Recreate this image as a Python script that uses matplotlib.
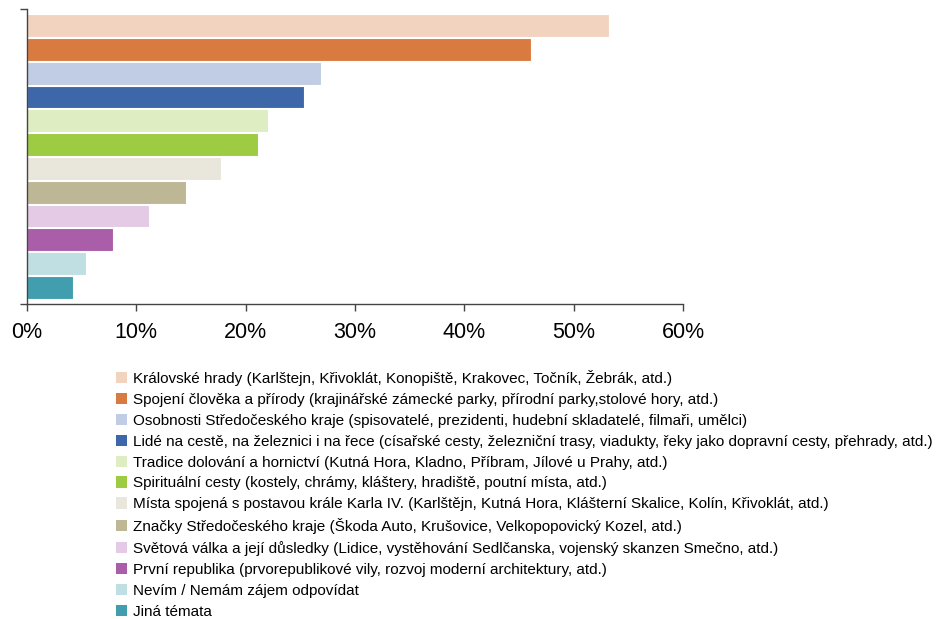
import matplotlib
matplotlib.use("Agg")
import matplotlib.pyplot as plt
from matplotlib.patches import Patch
from matplotlib.ticker import FuncFormatter

categories = [
    "Královské hrady (Karlštejn, Křivoklát, Konopiště, Krakovec, Točník, Žebrák, atd.)",
    "Spojení člověka a přírody (krajinářské zámecké parky, přírodní parky,stolové hory, atd.)",
    "Osobnosti Středočeského kraje (spisovatelé, prezidenti, hudební skladatelé, filmaři, umělci)",
    "Lidé na cestě, na železnici i na řece (císařské cesty, železniční trasy, viadukty, řeky jako dopravní cesty, přehrady, atd.)",
    "Tradice dolování a hornictví (Kutná Hora, Kladno, Příbram, Jílové u Prahy, atd.)",
    "Spirituální cesty (kostely, chrámy, kláštery, hradiště, poutní místa, atd.)",
    "Místa spojená s postavou krále Karla IV. (Karlštějn, Kutná Hora, Klášterní Skalice, Kolín, Křivoklát, atd.)",
    "Značky Středočeského kraje (Škoda Auto, Krušovice, Velkopopovický Kozel, atd.)",
    "Světová válka a její důsledky (Lidice, vystěhování Sedlčanska, vojenský skanzen Smečno, atd.)",
    "První republika (prvorepublikové vily, rozvoj moderní architektury, atd.)",
    "Nevím / Nemám zájem odpovídat",
    "Jiná témata",
]
values = [53.2, 46.1, 26.9, 25.3, 22.0, 21.1, 17.7, 14.5, 11.2, 7.9, 5.4, 4.2]
colors = ["#F2D3C0", "#D97B40", "#C0CDE4", "#3E67AA", "#DEEDC2", "#9DCB41",
          "#E9E6DB", "#BEB795", "#E4CAE4", "#AA5DA8", "#C0DFE3", "#409EAF"]
xticks = [0, 10, 20, 30, 40, 50, 60]

plt.rcParams["font.family"] = ["Liberation Sans", "DejaVu Sans"]

W, H = 945, 619
fig = plt.figure(figsize=(W / 100, H / 100), dpi=100)
ax = fig.add_axes([27 / W, 1 - 304 / H, (683 - 27) / W, (304 - 9) / H])

ypos = list(range(len(values)))
ax.barh(ypos, values, height=0.96, color=colors, edgecolor="white", linewidth=0.8)
ax.set_ylim(len(values) - 0.3, -0.7)
ax.set_xlim(0, 60)
ax.set_xticks(xticks)
ax.xaxis.set_major_formatter(FuncFormatter(lambda v, p: f"{v:.0f}%"))
ax.tick_params(axis="x", labelsize=15.5, length=5, width=1, color="#444444", pad=8)
ax.set_yticks([len(values) - 0.3, -0.7])
ax.set_yticklabels([])
ax.tick_params(axis="y", length=5, width=1, color="#444444")
for s in ["top", "right"]:
    ax.spines[s].set_visible(False)
for s in ["left", "bottom"]:
    ax.spines[s].set_color("#444444")
    ax.spines[s].set_linewidth(1)

handles = [Patch(facecolor=c, edgecolor="none") for c in colors]
fig.legend(handles, categories, loc="upper left", bbox_to_anchor=(116 / W, 1 - 370 / H),
           frameon=False, fontsize=11, handlelength=0.75, handleheight=0.75,
           handletextpad=0.35, labelspacing=0.45, borderpad=0, borderaxespad=0)

fig.savefig("out.png", dpi=100)
